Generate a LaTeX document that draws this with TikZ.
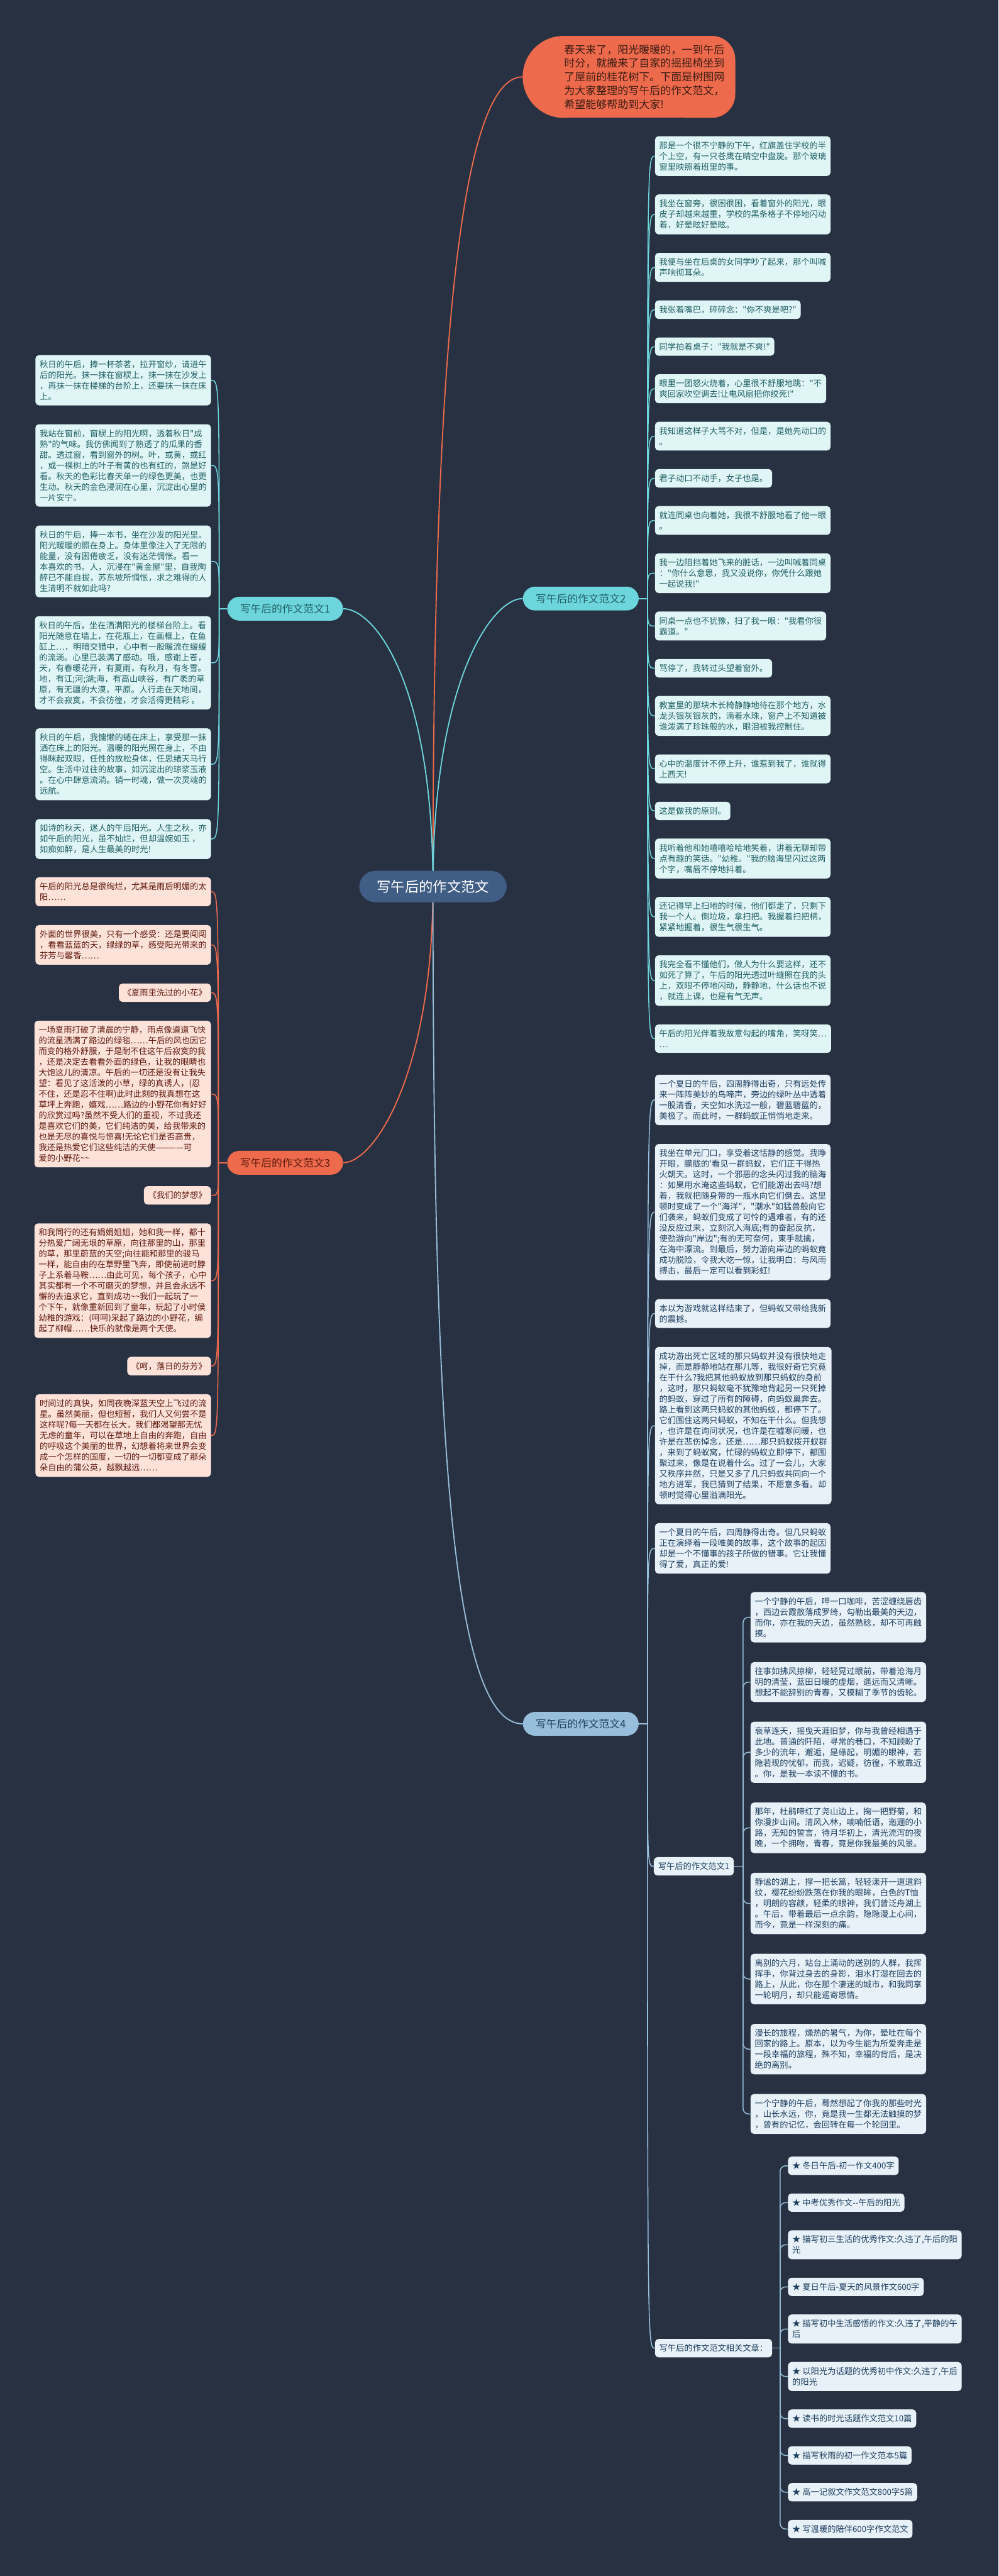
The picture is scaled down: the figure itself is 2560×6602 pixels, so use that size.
\documentclass[tikz,border=0pt]{standalone}
\usepackage{fontspec}
\setmainfont{Noto Sans CJK SC}[Ligatures=TeXOff]
\usetikzlibrary{calc}
\definecolor{bg}{HTML}{283142}
\definecolor{cyanL}{HTML}{6DD5DC}
\definecolor{cyanBox}{HTML}{E0F6F6}
\definecolor{cyanTxt}{HTML}{1F5E64}
\definecolor{orng}{HTML}{EE6A4C}
\definecolor{pinkBox}{HTML}{FDE2DA}
\definecolor{redTxt}{HTML}{5E1A0D}
\definecolor{blueL}{HTML}{97BEDA}
\definecolor{blueBox}{HTML}{E8F1F8}
\definecolor{blueTxt}{HTML}{1E3F60}
\definecolor{ctrC}{HTML}{3F5D85}
\definecolor{topTxt}{HTML}{3A1C12}
\pgfdeclarelayer{bgl}\pgfdeclarelayer{lines}\pgfsetlayers{bgl,lines,main}
\tikzset{
 tb/.style={rounded corners=9pt, inner xsep=11pt, inner ysep=13.5pt, align=left, font=\fontsize{21.4}{27.4}\selectfont},
 cbox/.style={tb, fill=cyanBox, text=cyanTxt},
 obox/.style={tb, fill=pinkBox, text=redTxt},
 bbox/.style={tb, fill=blueBox, text=blueTxt},
 lab/.style={rounded corners=31pt, inner xsep=33pt, inner ysep=18pt, font=\fontsize{27}{30}\selectfont},
 lc/.style={draw=cyanL, line width=2.5pt},
 lo/.style={draw=orng, line width=2.5pt},
 lb/.style={draw=blueL, line width=2.5pt},
}
\begin{document}
\begin{tikzpicture}[x=1pt,y=-1pt]
\useasboundingbox (0,0) rectangle (2560,6602);
\begin{pgfonlayer}{bgl}\fill[bg] (0,0) rectangle (2560,6602);\end{pgfonlayer}

% center and branches
\node[fill=ctrC, text=white, rounded corners=41pt, inner xsep=45pt, inner ysep=23.5pt, font=\fontsize{36}{40}\selectfont] (ctr) at (1110,2272) {写午后的作文范文};
\node[lab, fill=cyanL, text=cyanTxt] (k1) at (731,1560) {写午后的作文范文1};
\node[lab, fill=cyanL, text=cyanTxt] (k2) at (1489,1534) {写午后的作文范文2};
\node[lab, fill=orng, text=redTxt] (k3) at (731,2980) {写午后的作文范文3};
\node[lab, fill=blueL, text=blueTxt] (k4) at (1489,4418) {写午后的作文范文4};

% top bubble
\fill[orng] (1445,92) rectangle (1830,302);
\fill[orng, rounded corners=60pt] (1700,92) rectangle (1885,302);
\fill[orng] (1445,197) circle[radius=105pt];
\coordinate (topL) at (1340,197);
\node[text=topTxt, anchor=west, align=left, inner sep=0pt, font=\fontsize{27.4}{35}\selectfont] (top) at (1446,197) {春天来了，阳光暖暖的，一到午后\\时分，就搬来了自家的摇摇椅坐到\\了屋前的桂花树下。下面是树图网\\为大家整理的写午后的作文范文，\\希望能够帮助到大家!};

% section 1
\node[cbox, anchor=north east] (s1b1) at (541,910) {秋日的午后，捧一杯茶茗，拉开窗纱，请进午\\后的阳光。抹一抹在窗棂上，抹一抹在沙发上\\，再抹一抹在楼梯的台阶上，还要抹一抹在床\\上。};
\node[cbox, anchor=north east] (s1b2) at ([yshift=-48pt]s1b1.south east) {我站在窗前，窗棂上的阳光啊，透着秋日"成\\熟"的气味。我仿佛闻到了熟透了的瓜果的香\\甜。透过窗，看到窗外的树。叶，或黄，或红\\，或一棵树上的叶子有黄的也有红的，煞是好\\看。秋天的色彩比春天单一的绿色更美，也更\\生动。秋天的金色浸润在心里，沉淀出心里的\\一片安宁。};
\node[cbox, anchor=north east] (s1b3) at ([yshift=-48pt]s1b2.south east) {秋日的午后，捧一本书，坐在沙发的阳光里。\\阳光暖暖的照在身上。身体里像注入了无限的\\能量，没有困倦疲乏，没有迷茫惆怅。看一\\本喜欢的书。人，沉浸在"黄金屋"里，自我陶\\醉已不能自拔，苏东坡所惆怅，求之难得的人\\生清明不就如此吗？};
\node[cbox, anchor=north east] (s1b4) at ([yshift=-48pt]s1b3.south east) {秋日的午后，坐在洒满阳光的楼梯台阶上。看\\阳光随意在墙上，在花瓶上，在画框上，在鱼\\缸上…，明暗交错中，心中有一股暖流在缓缓\\的流淌。心里已装满了感动。哦，感谢上苍，\\天，有春暖花开，有夏雨，有秋月，有冬雪。\\地，有江;河;湖;海，有高山峡谷，有广袤的草\\原，有无疆的大漠，平原。人行走在天地间，\\才不会寂寞，不会彷徨，才会活得更精彩 。};
\node[cbox, anchor=north east] (s1b5) at ([yshift=-48pt]s1b4.south east) {秋日的午后，我慵懒的蜷在床上，享受那一抹\\洒在床上的阳光。温暖的阳光照在身上，不由\\得眯起双眼，任性的放松身体，任思绪天马行\\空。生活中过往的故事，如沉淀出的琼浆玉液\\。在心中肆意流淌。销一时魂，做一次灵魂的\\远航。};
\node[cbox, anchor=north east] (s1b6) at ([yshift=-48pt]s1b5.south east) {如诗的秋天，迷人的午后阳光。人生之秋，亦\\如午后的阳光，虽不灿烂，但却温婉如玉 ，\\如痴如醉，是人生最美的时光!};

% section 3
\node[obox, anchor=north east] (s3b1) at (541,2248) {午后的阳光总是很绚烂，尤其是雨后明媚的太\\阳……};
\node[obox, anchor=north east] (s3b2) at ([yshift=-48pt]s3b1.south east) {外面的世界很美，只有一个感受：还是要闯闯\\，看看蓝蓝的天，绿绿的草，感受阳光带来的\\芬芳与馨香……};
\node[obox, anchor=north east] (s3b3) at ([yshift=-48pt]s3b2.south east) {《夏雨里洗过的小花》};
\node[obox, anchor=north east] (s3b4) at ([yshift=-48pt]s3b3.south east) {一场夏雨打破了清晨的宁静，雨点像道道飞快\\的流星洒满了路边的绿毯……午后的风也因它\\而变的格外舒服，于是耐不住这午后寂寞的我\\，还是决定去看看外面的绿色，让我的眼睛也\\大饱这儿的清凉。午后的一切还是没有让我失\\望：看见了这活泼的小草，绿的真诱人，(忍\\不住，还是忍不住啊)此时此刻的我真想在这\\草坪上奔跑，嬉戏……路边的小野花你有好好\\的欣赏过吗?虽然不受人们的重视，不过我还\\是喜欢它们的美，它们纯洁的美，给我带来的\\也是无尽的喜悦与惊喜!无论它们是否高贵，\\我还是热爱它们这些纯洁的天使————可\\爱的小野花\textasciitilde\textasciitilde};
\node[obox, anchor=north east] (s3b5) at ([yshift=-48pt]s3b4.south east) {《我们的梦想》};
\node[obox, anchor=north east] (s3b6) at ([yshift=-48pt]s3b5.south east) {和我同行的还有娟娟姐姐，她和我一样，都十\\分热爱广阔无垠的草原，向往那里的山，那里\\的草，那里蔚蓝的天空;向往能和那里的骏马\\一样，能自由的在草野里飞奔，即使前进时脖\\子上系着马鞍……由此可见，每个孩子，心中\\其实都有一个不可磨灭的梦想，并且会永远不\\懈的去追求它，直到成功\textasciitilde\textasciitilde 我们一起玩了一\\个下午，就像重新回到了童年，玩起了小时侯\\幼稚的游戏：(呵呵)采起了路边的小野花，编\\起了柳帽……快乐的就像是两个天使。};
\node[obox, anchor=north east] (s3b7) at ([yshift=-48pt]s3b6.south east) {《呵，落日的芬芳》};
\node[obox, anchor=north east] (s3b8) at ([yshift=-48pt]s3b7.south east) {时间过的真快，如同夜晚深蓝天空上飞过的流\\星。虽然美丽，但也短暂，我们人又何尝不是\\这样呢?每一天都在长大，我们都渴望那无忧\\无虑的童年，可以在草地上自由的奔跑，自由\\的呼吸这个美丽的世界，幻想着将来世界会变\\成一个怎样的国度，一切的一切都变成了那朵\\朵自由的蒲公英，越飘越远……};

% section 2
\node[cbox, anchor=north west] (s2b1) at (1679,349) {那是一个很不宁静的下午，红旗盖住学校的半\\个上空，有一只苍鹰在晴空中盘旋。那个玻璃\\窗里映照着班里的事。};
\node[cbox, anchor=north west] (s2b2) at ([yshift=-47pt]s2b1.south west) {我坐在窗旁，很困很困，看着窗外的阳光，眼\\皮子却越来越重，学校的黑条格子不停地闪动\\着，好晕眩好晕眩。};
\node[cbox, anchor=north west] (s2b3) at ([yshift=-47pt]s2b2.south west) {我便与坐在后桌的女同学吵了起来，那个叫喊\\声响彻耳朵。};
\node[cbox, anchor=north west] (s2b4) at ([yshift=-47pt]s2b3.south west) {我张着嘴巴，碎碎念："你不爽是吧?"};
\node[cbox, anchor=north west] (s2b5) at ([yshift=-47pt]s2b4.south west) {同学拍着桌子："我就是不爽!"};
\node[cbox, anchor=north west] (s2b6) at ([yshift=-47pt]s2b5.south west) {眼里一团怒火烧着，心里很不舒服地跳："不\\爽回家吹空调去!让电风扇把你绞死!"};
\node[cbox, anchor=north west] (s2b7) at ([yshift=-47pt]s2b6.south west) {我知道这样子大骂不对，但是，是她先动口的\\。};
\node[cbox, anchor=north west] (s2b8) at ([yshift=-47pt]s2b7.south west) {君子动口不动手，女子也是。};
\node[cbox, anchor=north west] (s2b9) at ([yshift=-47pt]s2b8.south west) {就连同桌也向着她，我很不舒服地看了他一眼\\。};
\node[cbox, anchor=north west] (s2b10) at ([yshift=-47pt]s2b9.south west) {我一边阻挡着她飞来的脏话，一边叫喊着同桌\\："你什么意思，我又没说你，你凭什么跟她\\一起说我!"};
\node[cbox, anchor=north west] (s2b11) at ([yshift=-47pt]s2b10.south west) {同桌一点也不犹豫，扫了我一眼："我看你很\\霸道。"};
\node[cbox, anchor=north west] (s2b12) at ([yshift=-47pt]s2b11.south west) {骂停了，我转过头望着窗外。};
\node[cbox, anchor=north west] (s2b13) at ([yshift=-47pt]s2b12.south west) {教室里的那块木长椅静静地待在那个地方，水\\龙头银灰银灰的，滴着水珠，窗户上不知道被\\谁泼满了珍珠般的水，眼泪被我控制住。};
\node[cbox, anchor=north west] (s2b14) at ([yshift=-47pt]s2b13.south west) {心中的温度计不停上升，谁惹到我了，谁就得\\上西天!};
\node[cbox, anchor=north west] (s2b15) at ([yshift=-47pt]s2b14.south west) {这是做我的原则。};
\node[cbox, anchor=north west] (s2b16) at ([yshift=-47pt]s2b15.south west) {我听着他和她嘻嘻哈哈地笑着，讲着无聊却带\\点有趣的笑话。"幼稚。"我的脑海里闪过这两\\个字，嘴唇不停地抖着。};
\node[cbox, anchor=north west] (s2b17) at ([yshift=-47pt]s2b16.south west) {还记得早上扫地的时候，他们都走了，只剩下\\我一个人。倒垃圾，拿扫把。我握着扫把柄，\\紧紧地握着，很生气很生气。};
\node[cbox, anchor=north west] (s2b18) at ([yshift=-47pt]s2b17.south west) {我完全看不懂他们，做人为什么要这样，还不\\如死了算了，午后的阳光透过叶缝照在我的头\\上，双眼不停地闪动，静静地，什么话也不说\\，就连上课，也是有气无声。};
\node[cbox, anchor=north west] (s2b19) at ([yshift=-47pt]s2b18.south west) {午后的阳光伴着我故意勾起的嘴角，笑呀笑…\\…};

% section 4
\node[bbox, anchor=north west] (c1) at (1679,2754) {一个夏日的午后，四周静得出奇，只有远处传\\来一阵阵美妙的鸟啼声，旁边的绿叶丛中透着\\一股清香，天空如水洗过一般，碧蓝碧蓝的，\\美极了。而此时，一群蚂蚁正悄悄地走来。};
\node[bbox, anchor=north west] (c2) at ([yshift=-48pt]c1.south west) {我坐在单元门口，享受着这恬静的感觉。我睁\\开眼，朦胧的'看见一群蚂蚁，它们正干得热\\火朝天。这时，一个邪恶的念头闪过我的脑海\\：如果用水淹这些蚂蚁，它们能游出去吗?想\\着，我就把随身带的一瓶水向它们倒去。这里\\顿时变成了一个"海洋"，"潮水"如猛兽般向它\\们袭来，蚂蚁们变成了可怜的遇难者，有的还\\没反应过来，立刻沉入海底;有的奋起反抗，\\使劲游向"岸边";有的无可奈何，束手就擒，\\在海中漂流。到最后，努力游向岸边的蚂蚁竟\\成功脱险，令我大吃一惊，让我明白：与风雨\\搏击，最后一定可以看到彩虹!};
\node[bbox, anchor=north west] (c3) at ([yshift=-48pt]c2.south west) {本以为游戏就这样结束了，但蚂蚁又带给我新\\的震撼。};
\node[bbox, anchor=north west] (c4) at ([yshift=-48pt]c3.south west) {成功游出死亡区域的那只蚂蚁并没有很快地走\\掉，而是静静地站在那儿等，我很好奇它究竟\\在干什么?我把其他蚂蚁放到那只蚂蚁的身前\\，这时，那只蚂蚁毫不犹豫地背起另一只死掉\\的蚂蚁，穿过了所有的障碍，向蚂蚁巢奔去。\\路上看到这两只蚂蚁的其他蚂蚁，都停下了。\\它们围住这两只蚂蚁，不知在干什么。但我想\\，也许是在询问状况，也许是在嘘寒问暖，也\\许是在悲伤悼念，还是……那只蚂蚁拨开蚁群\\，来到了蚂蚁窝，忙碌的蚂蚁立即停下，都围\\聚过来，像是在说着什么。过了一会儿，大家\\又秩序井然，只是又多了几只蚂蚁共同向一个\\地方进军，我已猜到了结果，不愿意多看。却\\顿时觉得心里溢满阳光。};
\node[bbox, anchor=north west] (c5) at ([yshift=-48pt]c4.south west) {一个夏日的午后，四周静得出奇。但几只蚂蚁\\正在演绎着一段唯美的故事，这个故事的起因\\却是一个不懂事的孩子所做的错事。它让我懂\\得了爱，真正的爱!};
\node[bbox, anchor=west] (sl) at (1676,4783) {写午后的作文范文1};
\node[bbox, anchor=west] (rl) at (1679,6018) {写午后的作文范文相关文章：};

\node[bbox, anchor=north west] (d1) at (1924,4080) {一个宁静的午后，呷一口咖啡，苦涩缠绕唇齿\\，西边云霞散落成罗绮，勾勒出最美的天边，\\而你，亦在我的天边，虽然熟稔，却不可再触\\摸。};
\node[bbox, anchor=north west] (d2) at ([yshift=-50pt]d1.south west) {往事如拂风掠柳，轻轻晃过眼前，带着沧海月\\明的清莹，蓝田日暖的虚烟，遥远而又清晰。\\想起不能辞别的青春，又模糊了季节的齿轮。};
\node[bbox, anchor=north west] (d3) at ([yshift=-50pt]d2.south west) {衰草连天，摇曳天涯旧梦，你与我曾经相遇于\\此地。普通的阡陌，寻常的巷口，不知顾盼了\\多少的流年，邂逅，是缘起，明媚的眼神，若\\隐若现的忧郁，而我，迟疑，彷徨，不敢靠近\\。你，是我一本读不懂的书。};
\node[bbox, anchor=north west] (d4) at ([yshift=-50pt]d3.south west) {那年，杜鹃啼红了尧山边上，掬一把野菊，和\\你漫步山间。清风入林，喃喃低语，迤逦的小\\路，无知的誓言，待月华初上，清光流泻的夜\\晚，一个拥吻，青春，竟是你我最美的风景。};
\node[bbox, anchor=north west] (d5) at ([yshift=-50pt]d4.south west) {静谧的湖上，撑一把长篙，轻轻漾开一道道斜\\纹，樱花纷纷跌落在你我的眼眸，白色的T恤\\，明朗的容颜，轻柔的眼神，我们曾泛舟湖上\\。午后，带着最后一点余韵，隐隐漫上心间，\\而今，竟是一样深刻的痛。};
\node[bbox, anchor=north west] (d6) at ([yshift=-50pt]d5.south west) {离别的六月，站台上涌动的送别的人群，我挥\\挥手，你背过身去的身影，泪水打湿在回去的\\路上，从此，你在那个凄迷的城市，和我同享\\一轮明月，却只能遥寄思情。};
\node[bbox, anchor=north west] (d7) at ([yshift=-50pt]d6.south west) {漫长的旅程，燥热的暑气，为你，晕吐在每个\\回家的路上。原本，以为今生能为所爱奔走是\\一段幸福的旅程，殊不知，幸福的背后，是决\\绝的离别。};
\node[bbox, anchor=north west] (d8) at ([yshift=-50pt]d7.south west) {一个宁静的午后，蓦然想起了你我的那些时光\\，山长水远，你，竟是我一生都无法触摸的梦\\，曾有的记忆，会回转在每一个轮回里。};

\node[bbox, anchor=north west] (L1) at (2020,5527) {★ 冬日午后-初一作文400字};
\node[bbox, anchor=north west] (L2) at ([yshift=-47pt]L1.south west) {★ 中考优秀作文--午后的阳光};
\node[bbox, anchor=north west] (L3) at ([yshift=-47pt]L2.south west) {★ 描写初三生活的优秀作文:久违了,午后的阳\\光};
\node[bbox, anchor=north west] (L4) at ([yshift=-47pt]L3.south west) {★ 夏日午后-夏天的风景作文600字};
\node[bbox, anchor=north west] (L5) at ([yshift=-47pt]L4.south west) {★ 描写初中生活感悟的作文:久违了,平静的午\\后};
\node[bbox, anchor=north west] (L6) at ([yshift=-47pt]L5.south west) {★ 以阳光为话题的优秀初中作文:久违了,午后\\的阳光};
\node[bbox, anchor=north west] (L7) at ([yshift=-47pt]L6.south west) {★ 读书的时光话题作文范文10篇};
\node[bbox, anchor=north west] (L8) at ([yshift=-47pt]L7.south west) {★ 描写秋雨的初一作文范本5篇};
\node[bbox, anchor=north west] (L9) at ([yshift=-47pt]L8.south west) {★ 高一记叙文作文范文800字5篇};
\node[bbox, anchor=north west] (L10) at ([yshift=-47pt]L9.south west) {★ 写温暖的陪伴600字作文范文};

\begin{pgfonlayer}{lines}
\draw[orng, line width=3pt] (ctr.center) .. controls (1110,900) and (1180,197) .. (topL);
\draw[cyanL, line width=3pt] (ctr.center) .. controls (1110,1750) and (960,1560) .. (k1.east);
\draw[cyanL, line width=3pt] (ctr.center) .. controls (1110,1750) and (1260,1534) .. (k2.west);
\draw[orng, line width=3pt] (ctr.center) .. controls (1110,2750) and (960,2980) .. (k3.east);
\draw[blueL, line width=3pt] (ctr.center) .. controls (1110,3700) and (1160,4418) .. (k4.west);

\coordinate (j1) at (562,1560);
\draw[lc] (k1.west) -- (j1);
\foreach \i in {1,...,6} \draw[lc] (j1) .. controls (j1 |- s1b\i.east) .. (s1b\i.east);
\coordinate (j2) at (1660,1534);
\draw[lc] (k2.east) -- (j2);
\foreach \i in {1,...,19} \draw[lc] (j2) .. controls (j2 |- s2b\i.west) .. (s2b\i.west);
\coordinate (j3) at (560,2980);
\draw[lo] (k3.west) -- (j3);
\foreach \i in {1,...,8} \draw[lo] (j3) .. controls (j3 |- s3b\i.east) .. (s3b\i.east);
\coordinate (j4) at (1660,4418);
\draw[lb] (k4.east) -- (j4);
\foreach \n in {c1,c2,c3,c4,c5,sl,rl} \draw[lb] (j4) .. controls (j4 |- \n.west) .. (\n.west);
\coordinate (j5) at (1905,4783);
\draw[lb] (sl.east) -- (j5);
\foreach \i in {1,...,8} \draw[lb, rounded corners=14pt] (j5) -- (j5 |- d\i.west) -- (d\i.west);
\coordinate (j6) at (2000,6018);
\draw[lb] (rl.east) -- (j6);
\foreach \i in {1,...,10} \draw[lb, rounded corners=14pt] (j6) -- (j6 |- L\i.west) -- (L\i.west);
\end{pgfonlayer}
\end{tikzpicture}
\end{document}
